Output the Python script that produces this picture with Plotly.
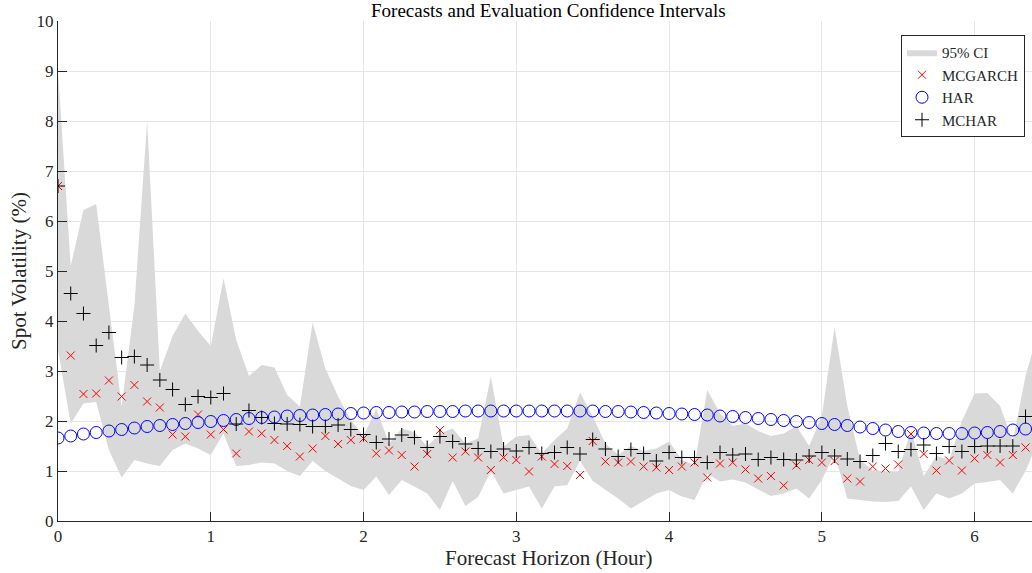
import plotly.graph_objects as go

step_hours = 1.0 / 12.0

mcgarch = [6.70, 3.31, 2.54, 2.55, 2.81, 2.49, 2.72, 2.39, 2.27, 1.73,
           1.69, 2.13, 1.73, 1.83, 1.35, 1.79, 1.75, 1.62, 1.50, 1.29,
           1.45, 1.70, 1.54, 1.62, 1.65, 1.35, 1.41, 1.32, 1.09, 1.34,
           1.82, 1.27, 1.39, 1.27, 1.02, 1.27, 1.22, 0.99, 1.29, 1.14,
           1.10, 0.92, 1.60, 1.19, 1.17, 1.19, 1.09, 1.07, 1.02, 1.09,
           1.17, 0.87, 1.15, 1.17, 1.03, 0.85, 0.90, 0.71, 1.11, 1.22,
           1.17, 1.20, 0.85, 0.79, 1.09, 1.05, 1.13, 1.74, 1.34, 1.01,
           1.21, 1.01, 1.25, 1.32, 1.17, 1.32, 1.47]

har = [1.66, 1.70, 1.74, 1.77, 1.80, 1.83, 1.86, 1.89, 1.91, 1.93,
       1.95, 1.97, 1.99, 2.01, 2.03, 2.05, 2.07, 2.08, 2.10, 2.11,
       2.12, 2.13, 2.14, 2.15, 2.16, 2.17, 2.17, 2.18, 2.18, 2.19,
       2.19, 2.19, 2.20, 2.20, 2.20, 2.20, 2.20, 2.20, 2.20, 2.20,
       2.20, 2.20, 2.20, 2.19, 2.19, 2.18, 2.17, 2.16, 2.15, 2.14,
       2.13, 2.12, 2.10, 2.09, 2.07, 2.05, 2.03, 2.01, 1.99, 1.97,
       1.95, 1.93, 1.91, 1.88, 1.85, 1.82, 1.79, 1.77, 1.76, 1.75,
       1.75, 1.75, 1.76, 1.77, 1.79, 1.82, 1.84]

mchar = [6.70, 4.55, 4.15, 3.51, 3.77, 3.27, 3.29, 3.12, 2.82, 2.63,
         2.33, 2.49, 2.47, 2.55, 1.94, 2.21, 2.07, 1.95, 1.94, 1.93,
         1.89, 1.89, 1.92, 1.83, 1.73, 1.57, 1.64, 1.72, 1.67, 1.47,
         1.69, 1.59, 1.54, 1.45, 1.39, 1.44, 1.40, 1.47, 1.35, 1.37,
         1.47, 1.34, 1.63, 1.44, 1.29, 1.43, 1.35, 1.20, 1.37, 1.27,
         1.27, 1.17, 1.37, 1.32, 1.34, 1.23, 1.27, 1.23, 1.22, 1.30,
         1.37, 1.30, 1.24, 1.19, 1.31, 1.55, 1.39, 1.43, 1.52, 1.35,
         1.49, 1.39, 1.49, 1.50, 1.50, 1.50, 2.09]

ci_upper = [9.00, 5.10, 6.22, 6.34, 4.30, 2.30, 4.30, 8.00, 3.00, 3.70,
            4.15, 3.80, 3.50, 4.85, 3.62, 2.90, 3.12, 3.07, 2.52, 2.29,
            3.97, 3.05, 2.49, 2.02, 1.70, 2.25, 1.55, 1.85, 1.78, 1.49,
            1.75, 1.85, 1.55, 1.65, 2.89, 1.49, 1.69, 1.72, 1.35, 1.62,
            1.85, 2.57, 2.09, 1.55, 1.32, 1.50, 1.40, 1.45, 1.59, 1.22,
            1.12, 2.62, 2.15, 1.90, 1.95, 1.80, 1.70, 1.75, 1.90, 1.50,
            2.10, 3.88, 2.30, 1.22, 1.02, 0.99, 0.99, 1.82, 0.90, 1.30,
            1.22, 2.00, 2.55, 2.56, 2.30, 1.60, 2.90, 3.80]

ci_lower = [3.42, 1.95, 2.35, 2.38, 1.42, 0.87, 1.22, 1.15, 1.10, 1.42,
            1.55, 1.45, 1.32, 1.75, 1.10, 1.12, 1.17, 1.15, 1.00, 0.90,
            1.20, 1.00, 0.85, 0.70, 0.62, 0.89, 0.52, 0.82, 0.69, 0.55,
            0.22, 0.80, 0.30, 0.48, 1.00, 0.55, 0.62, 0.69, 0.25, 0.69,
            0.72, 1.20, 0.80, 0.62, 0.45, 0.25, 0.40, 0.55, 0.62, 0.49,
            0.42, 0.95, 0.79, 0.83, 0.77, 0.63, 0.50, 0.55, 0.65, 0.45,
            0.82, 1.35, 0.45, 0.42, 0.39, 0.38, 0.40, 0.69, 0.22, 0.55,
            0.45, 0.55, 0.75, 0.78, 0.82, 0.55, 1.00, 1.60]

x_ticks = [0, 1, 2, 3, 4, 5, 6]
y_ticks = [0, 1, 2, 3, 4, 5, 6, 7, 8, 9, 10]

x_pts = [i * step_hours for i in range(len(har))]
x_band = [i * step_hours for i in range(len(ci_upper))]

FONT = "Liberation Serif"
AX = "#262626"

fig = go.Figure()

fig.add_trace(go.Scatter(
    x=x_band + x_band[::-1],
    y=ci_upper + ci_lower[::-1],
    fill="toself", fillcolor="#d9d9d9",
    line=dict(width=0, color="#d9d9d9"),
    mode="lines", name="95% CI", hoverinfo="skip"))

fig.add_trace(go.Scatter(
    x=x_pts, y=mcgarch, mode="markers", name="MCGARCH",
    marker=dict(symbol="x-thin-open", size=8, line=dict(width=1, color="#ff0000"), color="#ff0000")))

fig.add_trace(go.Scatter(
    x=x_pts, y=har, mode="markers", name="HAR",
    marker=dict(symbol="circle-open", size=12, line=dict(width=1, color="#0000ff"), color="#0000ff")))

fig.add_trace(go.Scatter(
    x=x_pts, y=mchar, mode="markers", name="MCHAR",
    marker=dict(symbol="cross-thin-open", size=10, line=dict(width=1, color="#000000"), color="#000000")))

W, H = 1032, 573
L, T = 58, 21
B = H - 521
R = 0
plot_w = W - L - R
plot_h = H - T - B
px_per_hour = 152.77


def px(xr):
    return (xr - L) / plot_w


def py(yr):
    return (521 - yr) / plot_h


fig.update_layout(
    width=W, height=H,
    margin=dict(l=L, r=R, t=T, b=B, autoexpand=False),
    paper_bgcolor="white", plot_bgcolor="white",
    font=dict(family=FONT, color=AX, size=16),
    showlegend=True,
    legend=dict(
        x=px(1025), y=py(35), xanchor="right", yanchor="top",
        bgcolor="white", bordercolor=AX, borderwidth=1,
        font=dict(family=FONT, size=15, color=AX),
        tracegroupgap=0),
    annotations=[
        dict(text="Forecasts and Evaluation Confidence Intervals",
             x=px(548), xref="paper", y=py(11), yref="paper",
             xanchor="center", yanchor="middle", showarrow=False,
             font=dict(family=FONT, size=19, color="#000000")),
        dict(text="Forecast Horizon (Hour)",
             x=px(549), xref="paper", y=py(558), yref="paper",
             xanchor="center", yanchor="middle", showarrow=False,
             font=dict(family=FONT, size=21, color=AX)),
        dict(text="Spot Volatility (%)", textangle=-90,
             x=px(19), xref="paper", y=py(271), yref="paper",
             xanchor="center", yanchor="middle", showarrow=False,
             font=dict(family=FONT, size=21, color=AX)),
    ],
    xaxis=dict(
        range=[0, plot_w / px_per_hour], automargin=False,
        tickvals=x_ticks, ticktext=[str(v) for v in x_ticks],
        showgrid=True, gridcolor="#e6e6e6", gridwidth=1,
        zeroline=False, showline=True, linecolor=AX, linewidth=1,
        ticks="inside", ticklen=9, tickcolor=AX,
        tickfont=dict(family=FONT, size=17, color=AX),
    ),
    yaxis=dict(
        range=[0, 10], automargin=False,
        tickvals=y_ticks, ticktext=[str(v) for v in y_ticks],
        showgrid=True, gridcolor="#e6e6e6", gridwidth=1,
        zeroline=False, showline=True, linecolor=AX, linewidth=1,
        ticks="inside", ticklen=9, tickcolor=AX,
        tickfont=dict(family=FONT, size=17, color=AX),
    ),
)

fig.write_html(
    "out.html",
    config={"displayModeBar": False},
    post_script="document.body.style.margin='0';document.body.style.overflow='hidden';",
)
